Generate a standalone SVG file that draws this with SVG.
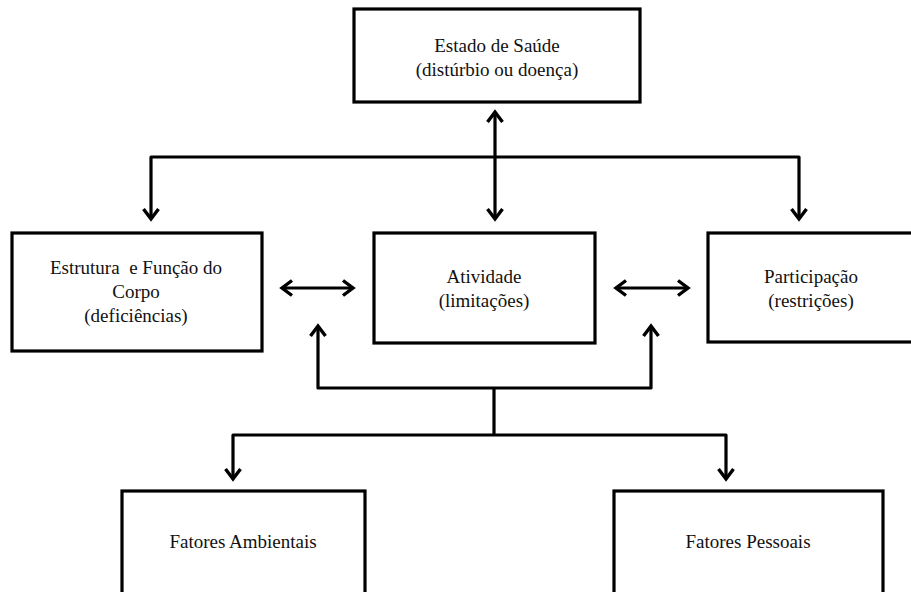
<svg xmlns="http://www.w3.org/2000/svg" width="911" height="592" viewBox="0 0 911 592">
<style>
.box{fill:#fff;stroke:#000;stroke-width:3.2}
.lbl{font-family:'Liberation Serif','Tinos','DejaVu Serif',serif;font-size:19px;fill:#111;text-anchor:middle}
.con{fill:none;stroke:#000;stroke-width:3.2;stroke-linejoin:round}
</style>
<defs>
<marker id="ah" markerUnits="userSpaceOnUse" markerWidth="18" markerHeight="20" viewBox="0 0 18 20" refX="14" refY="10" orient="auto-start-reverse">
<path d="M4,2.5 L14,10 L4,17.5" fill="none" stroke="#000" stroke-width="3.4" stroke-linejoin="miter"/>
</marker>
</defs>
<rect width="911" height="592" fill="#fff"/>
<g id="connectors">
<line class="con" x1="495" y1="112" x2="495" y2="219" marker-start="url(#ah)" marker-end="url(#ah)"/>
<polyline class="con" points="151,219 151,157 799,157 799,219" marker-start="url(#ah)" marker-end="url(#ah)"/>
<line class="con" x1="282" y1="288" x2="353" y2="288" marker-start="url(#ah)" marker-end="url(#ah)"/>
<line class="con" x1="616" y1="288" x2="688" y2="288" marker-start="url(#ah)" marker-end="url(#ah)"/>
<polyline class="con" points="318,326 318,388 651,388 651,326" marker-start="url(#ah)" marker-end="url(#ah)"/>
<line class="con" x1="494" y1="388" x2="494" y2="435"/>
<polyline class="con" points="233,479 233,435 726,435 726,479" marker-start="url(#ah)" marker-end="url(#ah)"/>
</g>
<g id="estado-saude">
<rect class="box" x="354" y="9" width="286" height="93"/>
<text class="lbl" x="497" y="52">Estado de Saúde</text>
<text class="lbl" x="497" y="76">(distúrbio ou doença)</text>
</g>
<g id="estrutura-funcao">
<rect class="box" x="12" y="233" width="250" height="118"/>
<text class="lbl" x="136" y="274" xml:space="preserve">Estrutura  e Função do</text>
<text class="lbl" x="136" y="298">Corpo</text>
<text class="lbl" x="136" y="322">(deficiências)</text>
</g>
<g id="atividade">
<rect class="box" x="374" y="233" width="221" height="110"/>
<text class="lbl" x="484" y="283">Atividade</text>
<text class="lbl" x="484" y="307">(limitações)</text>
</g>
<g id="participacao">
<rect class="box" x="708" y="233" width="206" height="109"/>
<text class="lbl" x="811" y="283">Participação</text>
<text class="lbl" x="811" y="307">(restrições)</text>
</g>
<g id="fatores-ambientais">
<rect class="box" x="122" y="491" width="243" height="110"/>
<text class="lbl" x="243" y="548">Fatores Ambientais</text>
</g>
<g id="fatores-pessoais">
<rect class="box" x="614" y="491" width="269" height="110"/>
<text class="lbl" x="748" y="548">Fatores Pessoais</text>
</g>
</svg>
